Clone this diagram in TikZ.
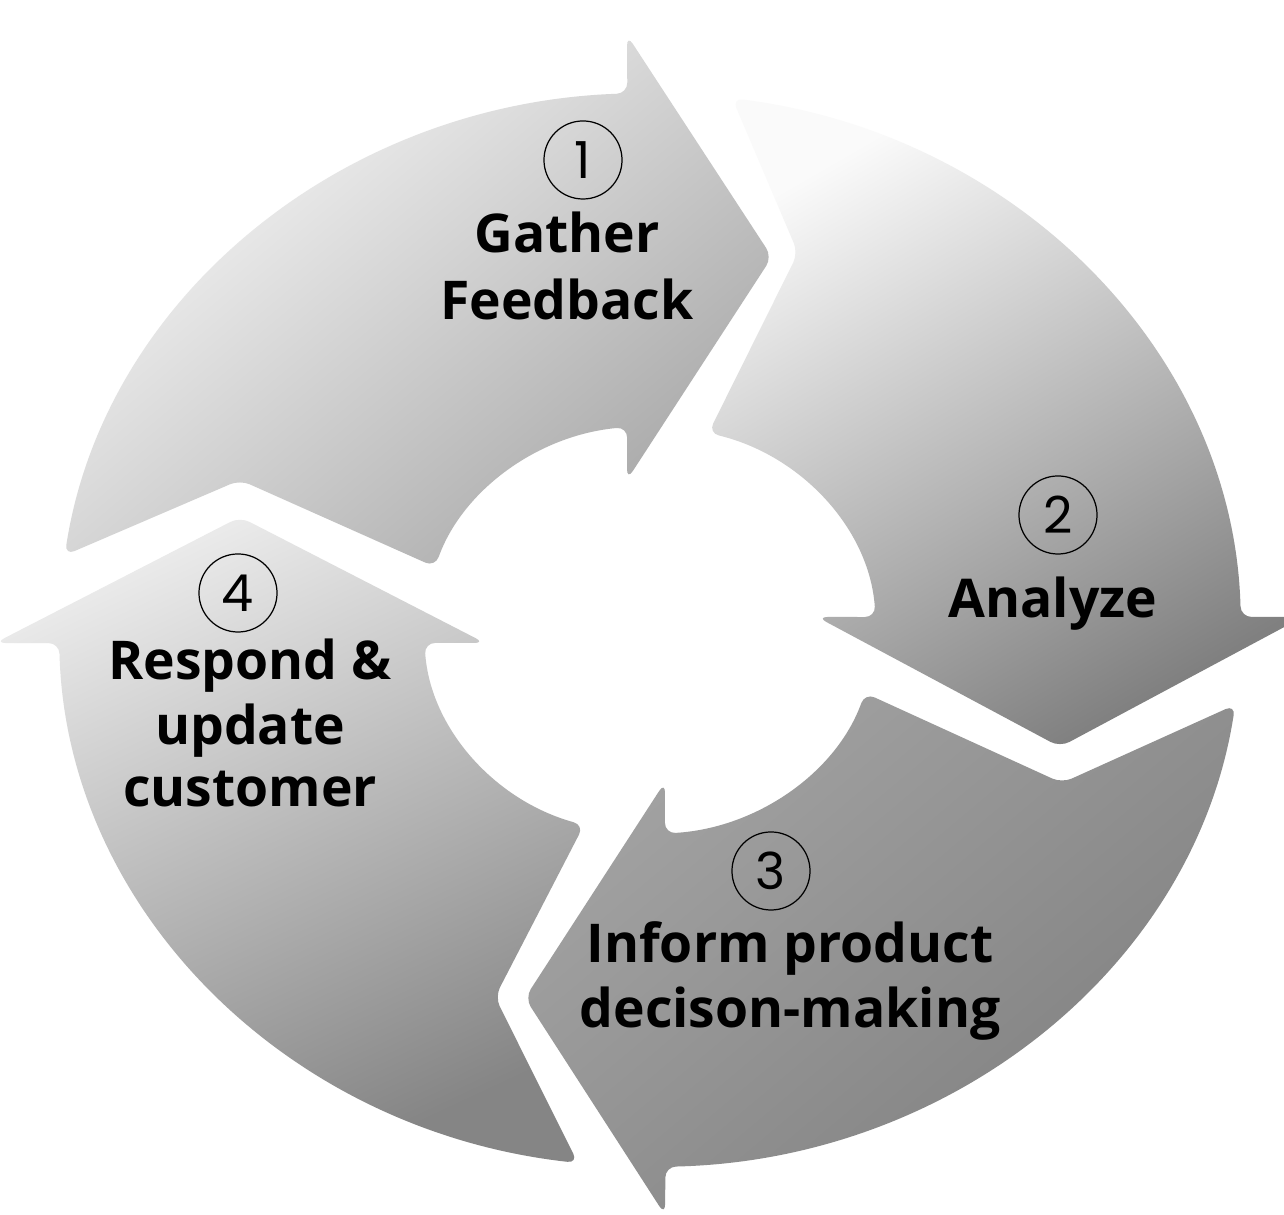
\documentclass[tikz,border=0pt]{standalone}
\usepackage{fontspec}
\newfontfamily\labfont{Open Sans}
\newfontfamily\numfont{Poppins}
\begin{document}
\begin{tikzpicture}[x=0.01cm,y=0.01cm,
  seg/.style={draw=none, rounded corners=3pt},
  lab/.style={font=\labfont\bfseries\fontsize{15.2}{18}\selectfont, anchor=base, inner sep=0pt, text=black},
  num/.style={circle, draw=black, line width=0.35pt, minimum size=0.78cm, inner sep=0pt, font=\numfont\fontsize{14.5}{16}\selectfont}]
\useasboundingbox (0,0) rectangle (1284,1215);
\fill[white] (0,0) rectangle (1284,1215);
\clip (0,0) rectangle (1284,1215);
% ---- arrow 1 (Gather Feedback)
\coordinate (A1os) at ({650+591*cos(172)},{585+537*sin(172)});
\coordinate (A1w1) at (627,1180);
\coordinate (A1tip) at (772,958);
\coordinate (A1w2) at (627,735);
\coordinate (A1ie) at ({650+226*cos(95.8)},{585+204*sin(95.8)});
\coordinate (A1n) at (240,735);
\shade[seg, top color=black!2, bottom color=black!34, shading angle=40]
  (A1os) arc[start angle=172, end angle=92.2, x radius=591, y radius=537]
  -- (A1w1) -- (A1tip) -- (A1w2) -- (A1ie)
  arc[start angle=95.8, end angle=162, x radius=226, y radius=204]
  -- (A1n) -- cycle;
% ---- arrow 2 (Analyze)
\coordinate (A2os) at ({650+591*cos(82)},{585+537*sin(82)});
\coordinate (A2w1) at (1303,598);
\coordinate (A2tip) at (1060,468);
\coordinate (A2w2) at (817,598);
\coordinate (A2ie) at ({650+226*cos(3.65)},{585+204*sin(3.65)});
\coordinate (A2n) at (798,962);
\shade[seg, top color=black!2, bottom color=black!50, shading angle=30]
  (A2os) arc[start angle=82, end angle=1.4, x radius=591, y radius=537]
  -- (A2w1) -- (A2tip) -- (A2w2) -- (A2ie)
  arc[start angle=3.65, end angle=75, x radius=226, y radius=204]
  -- (A2n) -- cycle;
% ---- arrow 3 (Inform product decision-making)
\coordinate (A3os) at ({650+591*cos(-8)},{585+537*sin(-8)});
\coordinate (A3w1) at (665,0);
\coordinate (A3tip) at (525,217);
\coordinate (A3w2) at (665,433);
\coordinate (A3ie) at ({650+226*cos(-86.2)},{585+204*sin(-86.2)});
\coordinate (A3n) at (1062,432);
\shade[seg, top color=black!36, bottom color=black!50, shading angle=40]
  (A3os) arc[start angle=-8, end angle=-88.5, x radius=591, y radius=537]
  -- (A3w1) -- (A3tip) -- (A3w2) -- (A3ie)
  arc[start angle=-86.2, end angle=-18, x radius=226, y radius=204]
  -- (A3n) -- cycle;
% ---- arrow 4 (Respond & update customer)
\coordinate (A4os) at ({650+591*cos(263)},{585+537*sin(263)});
\coordinate (A4w1) at (-5,572);
\coordinate (A4tip) at (240,698);
\coordinate (A4w2) at (485,572);
\coordinate (A4ie) at ({650+226*cos(183.65)},{585+204*sin(183.65)});
\coordinate (A4n) at (495,218);
\shade[seg, top color=black!8, bottom color=black!48, shading angle=25]
  (A4os) arc[start angle=263, end angle=181.4, x radius=591, y radius=537]
  -- (A4w1) -- (A4tip) -- (A4w2) -- (A4ie)
  arc[start angle=183.65, end angle=253, x radius=226, y radius=204]
  -- (A4n) -- cycle;
% ---- number circles
\node[num] (n1) at (583,1055) {1};
\node[num] (n2) at (1058,700) {2};
\node[num] (n3) at (771,344) {3};
\node[num] (n4) at (238,622) {4};
% ---- labels
\node[lab] (t1a) at (567,962) {Gather};
\node[lab] (t1b) at (567,895) {Feedback};
\node[lab] (t2a) at (1053,597) {Analyze};
\node[lab] (t3a) at (790,252) {Inform product};
\node[lab] (t3b) at (790,187) {decison-making};
\node[lab] (t4a) at (250,535) {Respond \&};
\node[lab] (t4b) at (250,470) {update};
\node[lab] (t4c) at (250,408) {customer};
\end{tikzpicture}
\end{document}
